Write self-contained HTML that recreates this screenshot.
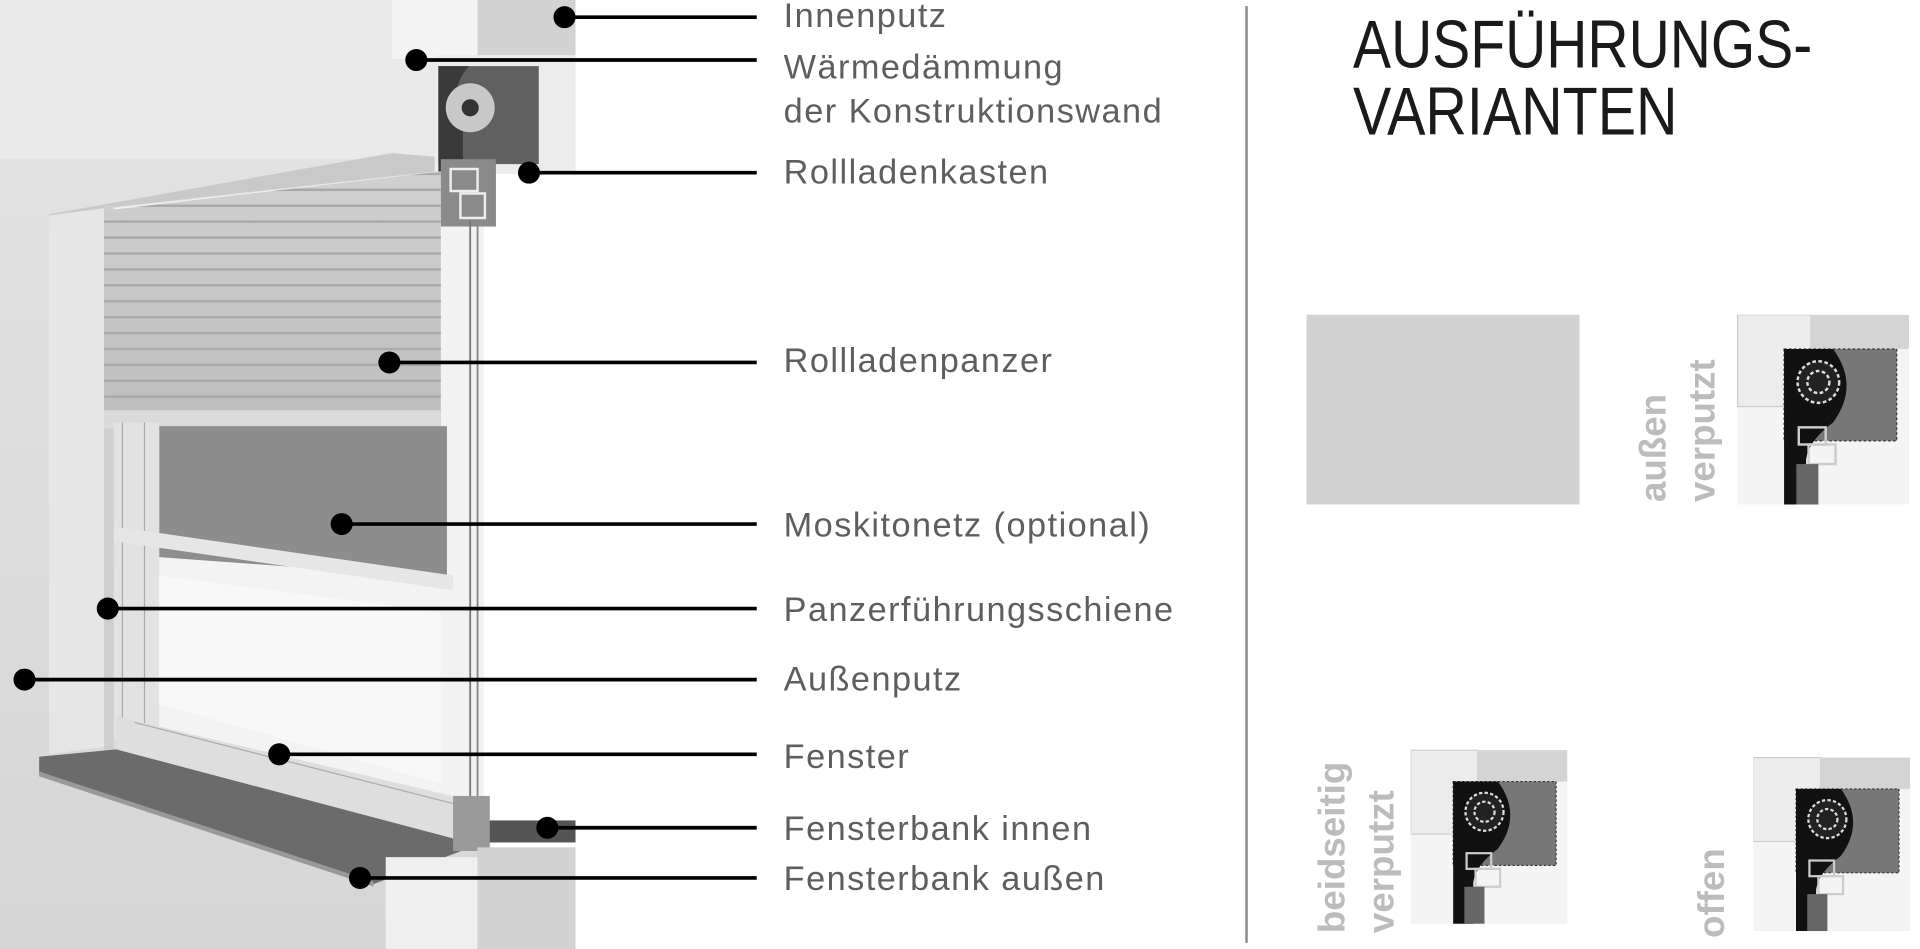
<!DOCTYPE html>
<html><head><meta charset="utf-8"><style>
html,body{margin:0;padding:0;background:#fff;width:1920px;height:949px;overflow:hidden}
svg{display:block}
text{font-family:"Liberation Sans",sans-serif}
</style></head><body>
<svg width="1920" height="949" viewBox="0 0 1568 775" xmlns="http://www.w3.org/2000/svg">
<defs>
<linearGradient id="wall" x1="0" y1="0" x2="0" y2="1"><stop offset="0" stop-color="#e4e4e4"/><stop offset="1" stop-color="#d6d6d6"/></linearGradient>
<linearGradient id="shut" x1="0" y1="0" x2="0" y2="1"><stop offset="0" stop-color="#d0d0d0"/><stop offset="1" stop-color="#bdbdbd"/></linearGradient>
<pattern id="slat" width="10" height="13" patternUnits="userSpaceOnUse"><rect width="10" height="13" fill="none"/><rect y="11" width="10" height="2" fill="#a9a9a9"/></pattern>
<symbol id="thumb" viewBox="0 0 140 155">
<rect x="0" y="0" width="140" height="155" fill="#f4f4f4"/>
<rect x="0" y="0" width="60" height="75" fill="#ececec" stroke="#ccc"/>
<rect x="60" y="0" width="80" height="28" fill="#d4d4d4"/>
<rect x="38" y="28" width="92" height="75" fill="#777" stroke="#333" stroke-dasharray="2 2"/>
<path d="M38 28 h40 q22 30 0 60 q-20 15 -22 30 v37 h-18z" fill="#111"/>
<circle cx="66" cy="55" r="17" fill="#222" stroke="#ddd" stroke-width="2" stroke-dasharray="3 2"/>
<circle cx="66" cy="55" r="9" fill="none" stroke="#ddd" stroke-width="2" stroke-dasharray="3 2"/>
<rect x="50" y="92" width="22" height="14" fill="none" stroke="#ccc" stroke-width="2"/>
<rect x="58" y="106" width="22" height="16" fill="none" stroke="#ccc" stroke-width="2"/>
<rect x="48" y="122" width="18" height="33" fill="#666"/>
</symbol>
</defs>
<!-- left wall scene -->
<rect x="0" y="0" width="470" height="775" fill="url(#wall)"/>
<rect x="360" y="140" width="110" height="555" fill="#fff"/>
<rect x="0" y="0" width="355" height="130" fill="#e9e9e9"/>
<polygon points="40,175 320,125 355,128 355,140 85,170 40,178" fill="#c9c9c9"/>
<polygon points="40,176 85,170 85,610 40,616" fill="#e6e6e6"/>
<rect x="85" y="168" width="8" height="445" fill="#cfcfcf"/>
<rect x="320" y="0" width="70" height="48" fill="#f3f3f3"/>
<rect x="390" y="0" width="80" height="48" fill="#d2d2d2"/>
<rect x="355" y="45" width="115" height="97" fill="#ececec"/>
<rect x="358" y="54" width="82" height="80" fill="#606060"/>
<path d="M358 54 h25 q-18 20 -5 45 v80 h-20z" fill="#3a3a3a"/>
<circle cx="384" cy="88" r="20" fill="#c8c8c8"/><circle cx="384" cy="88" r="7" fill="#333"/>
<rect x="360" y="130" width="45" height="55" fill="#8a8a8a"/>
<rect x="368" y="138" width="22" height="18" fill="none" stroke="#eee" stroke-width="2"/>
<rect x="376" y="158" width="20" height="20" fill="none" stroke="#eee" stroke-width="2"/>
<rect x="360" y="185" width="35" height="470" fill="#f2f2f2"/>
<line x1="384" y1="180" x2="384" y2="655" stroke="#777" stroke-width="1.5"/>
<line x1="390" y1="180" x2="390" y2="655" stroke="#888" stroke-width="1.5"/>
<polygon points="93,170 360,140 360,650 93,600" fill="#f3f3f3"/>
<polygon points="85,172 360,140 360,350 85,345" fill="url(#shut)"/>
<polygon points="85,172 360,140 360,335 85,335" fill="url(#slat)"/>
<rect x="85" y="335" width="275" height="15" fill="#dadada"/>
<polygon points="130,348 365,348 365,472 130,455" fill="#8d8d8d"/>
<rect x="93" y="345" width="37" height="260" fill="#e2e2e2"/>
<line x1="100" y1="345" x2="100" y2="605" stroke="#aaa"/><line x1="118" y1="345" x2="118" y2="605" stroke="#aaa"/>
<polygon points="93,430 370,470 370,482 93,442" fill="#e6e6e6"/>
<polygon points="130,470 360,500 360,640 130,575" fill="#f8f8f8"/>
<polygon points="95,585 390,655 390,690 95,612" fill="#dedede"/>
<line x1="110" y1="590" x2="385" y2="660" stroke="#aaa"/>
<polygon points="32,618 95,612 390,690 305,722 32,632" fill="#6b6b6b"/>
<polygon points="32,630 305,720 305,724 32,634" fill="#999"/>
<rect x="395" y="670" width="75" height="18" fill="#555"/>
<rect x="370" y="650" width="30" height="45" fill="#9a9a9a"/>
<rect x="315" y="700" width="75" height="75" fill="#efefef"/>
<rect x="390" y="692" width="80" height="83" fill="#d2d2d2"/>
<!-- leaders -->
<g stroke="#000" stroke-width="3">
<line x1="461" y1="14" x2="618" y2="14"/><line x1="340" y1="49" x2="618" y2="49"/>
<line x1="432" y1="141" x2="618" y2="141"/><line x1="318" y1="296" x2="618" y2="296"/>
<line x1="279" y1="428" x2="618" y2="428"/><line x1="88" y1="497" x2="618" y2="497"/>
<line x1="20" y1="555" x2="618" y2="555"/><line x1="228" y1="616" x2="618" y2="616"/>
<line x1="447" y1="676" x2="618" y2="676"/><line x1="294" y1="717" x2="618" y2="717"/>
</g>
<g fill="#000">
<circle cx="461" cy="14" r="9"/><circle cx="340" cy="49" r="9"/><circle cx="432" cy="141" r="9"/>
<circle cx="318" cy="296" r="9"/><circle cx="279" cy="428" r="9"/><circle cx="88" cy="497" r="9"/>
<circle cx="20" cy="555" r="9"/><circle cx="228" cy="616" r="9"/><circle cx="447" cy="676" r="9"/><circle cx="294" cy="717" r="9"/>
</g>
<g fill="#5e5e5e" font-size="28" letter-spacing="1.2">
<text x="640" y="22">Innenputz</text>
<text x="640" y="64">Wärmedämmung</text>
<text x="640" y="100">der Konstruktionswand</text>
<text x="640" y="150">Rollladenkasten</text>
<text x="640" y="304">Rollladenpanzer</text>
<text x="640" y="438">Moskitonetz (optional)</text>
<text x="640" y="507">Panzerführungsschiene</text>
<text x="640" y="564">Außenputz</text>
<text x="640" y="627">Fenster</text>
<text x="640" y="686">Fensterbank innen</text>
<text x="640" y="727">Fensterbank außen</text>
</g>
<line x1="1018" y1="5" x2="1018" y2="770" stroke="#888" stroke-width="2"/>
<g fill="#1a1a1a" font-size="55">
<text x="1105" y="55" textLength="375" lengthAdjust="spacingAndGlyphs">AUSFÜHRUNGS-</text>
<text x="1105" y="110" textLength="265" lengthAdjust="spacingAndGlyphs">VARIANTEN</text>
</g>
<rect x="1067" y="257" width="223" height="155" fill="#d3d3d3"/>
<use href="#thumb" x="1418" y="257" width="142" height="155"/>
<use href="#thumb" x="1152" y="607" width="128" height="153"/>
<use href="#thumb" x="1432" y="614" width="128" height="151"/>
<g fill="#bcbcbc" font-size="30" font-weight="bold">
<text transform="translate(1360,410) rotate(-90)">außen</text>
<text transform="translate(1400,410) rotate(-90)">verputzt</text>
<text transform="translate(1098,762) rotate(-90)">beidseitig</text>
<text transform="translate(1138,762) rotate(-90)">verputzt</text>
<text transform="translate(1408,766) rotate(-90)">offen</text>
</g>
</svg>
</body></html>
